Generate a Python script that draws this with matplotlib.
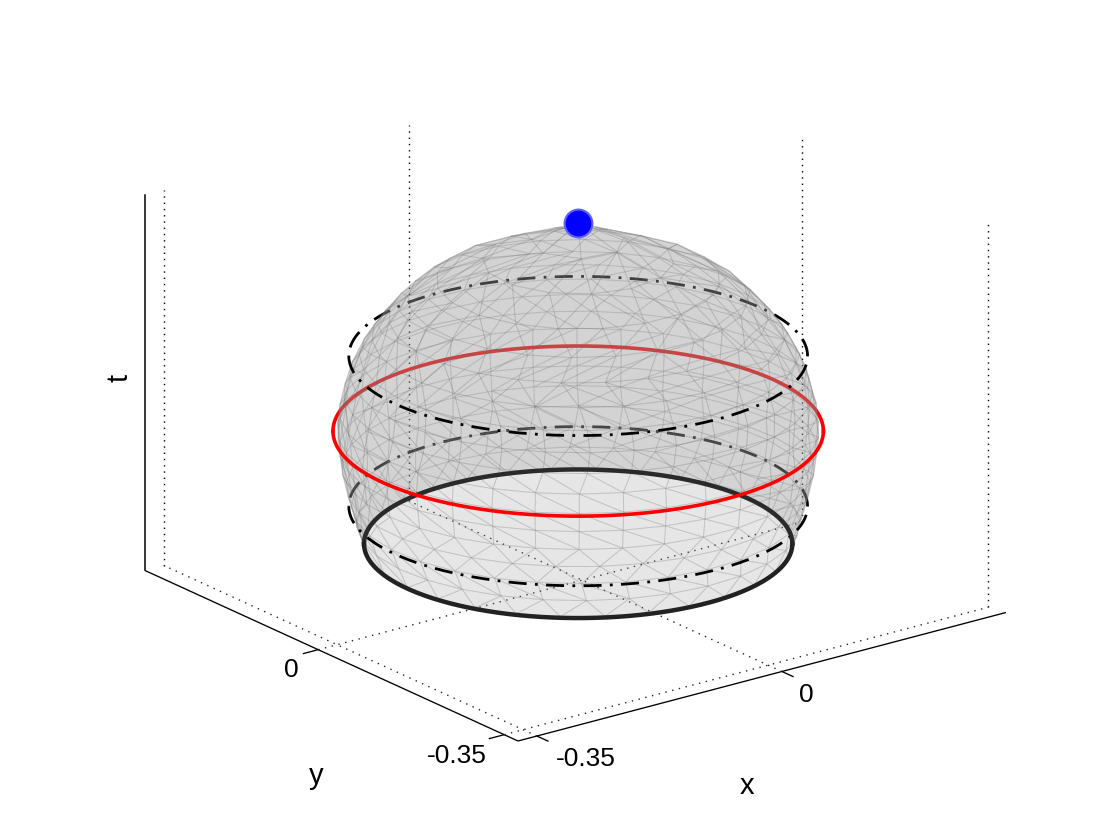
import numpy as np
import matplotlib
matplotlib.use("Agg")
import matplotlib.pyplot as plt
from mpl_toolkits.mplot3d import proj3d
from mpl_toolkits.mplot3d.art3d import Poly3DCollection

# ---- values ----
x_lim = [-0.377, 0.320]
y_lim = [-0.376, 0.326]
t_lim = [0.0, 1.0]
x_ticks = [-0.35, 0.0]
y_ticks = [-0.35, 0.0]
x_tick_labels = ["-0.35", "0"]
y_tick_labels = ["-0.35", "0"]

centre_x = -0.0036
centre_y = 0.0027

# dome profile: height and radius of each mesh row
row_t = [0.10, 0.15, 0.20, 0.25, 0.30, 0.35, 0.40, 0.45, 0.50, 0.55,
         0.60, 0.65, 0.70, 0.75, 0.80, 0.85, 0.90, 0.95]
row_r = [0.2437, 0.252, 0.258, 0.264, 0.269, 0.272, 0.2745, 0.272, 0.2667, 0.260,
         0.249, 0.235, 0.216, 0.194, 0.162, 0.109, 0.054, 0.0]

base_t, base_r = 0.097, 0.2437
red_t, red_r = 0.397, 0.279
dash_t = [0.197, 0.597]
dash_r = [0.261, 0.261]
apex_t = 0.95

# ---- figure ----
W, H = 1111, 833
plt.rcParams["font.family"] = ["Liberation Sans", "DejaVu Sans"]
fig = plt.figure(figsize=(W / 100, H / 100), dpi=100, facecolor="white")
ax = fig.add_axes([0, 0, 1, 1], projection="3d", proj_type="ortho", computed_zorder=False)
ax.set_axis_off()
ax.set_xlim(*x_lim, view_margin=0)
ax.set_ylim(*y_lim, view_margin=0)
ax.set_zlim(*t_lim, view_margin=0)
AZIM, ELEV = 232.8, 20.3
ax.view_init(elev=ELEV, azim=AZIM)
box = (x_lim[1] - x_lim[0], y_lim[1] - y_lim[0], (t_lim[1] - t_lim[0]) * 400 / 878)


def to_px(x, y, z):
    ax.apply_aspect()
    u, v, _ = proj3d.proj_transform(x, y, z, ax.get_proj())
    px, py = ax.transData.transform((u, v))
    return px, H - py


# fit the cube to the reference's axis corners
ax.set_box_aspect(box, zoom=1.0)
a = to_px(x_lim[0], y_lim[1], 0)
b = to_px(x_lim[1], y_lim[0], 0)
ax.set_box_aspect(box, zoom=861.0 / (b[0] - a[0]))
c = to_px(x_lim[0], y_lim[0], 0)
dx, dy = 518 - c[0], 741 - c[1]
ax.set_position([dx / W, -dy / H, 1, 1])


def line(xs, ys, zs, **kw):
    kw.setdefault("clip_on", False)
    ax.plot(xs, ys, zs, **kw)


# box axes
axis_kw = dict(color="black", lw=0.95, zorder=1, solid_capstyle="butt")
line([x_lim[0], x_lim[1]], [y_lim[0], y_lim[0]], [0, 0], **axis_kw)
line([x_lim[0], x_lim[0]], [y_lim[0], y_lim[1]], [0, 0], **axis_kw)
line([x_lim[0], x_lim[0]], [y_lim[1], y_lim[1]], [0, 1], color="black", lw=1.1, zorder=1)

# ticks
tick_len = 0.022
for v in x_ticks:
    line([v, v], [y_lim[0], y_lim[0] - tick_len], [0, 0], **axis_kw)
for v in y_ticks:
    line([x_lim[0], x_lim[0] - tick_len], [v, v], [0, 0], **axis_kw)

# dotted grid
x_wall = 0.3145
right_wall_top = 1.02
floor_dots = dict(color="#222222", lw=1.0, ls=(0, (1, 4)), zorder=1)
wall_dots = dict(color="black", lw=1.0, ls=(0, (1, 3.5)), zorder=1)
for v in x_ticks:
    line([v, v], [y_lim[0], y_lim[1]], [0, 0], **floor_dots)
    line([v, v], [y_lim[1], y_lim[1]], [0, 1], **wall_dots)
for v in y_ticks:
    line([x_lim[0], x_wall], [v, v], [0, 0], **floor_dots)
    line([x_wall, x_wall], [v, v], [0, right_wall_top], **wall_dots)


# rings: the half facing away lies under the translucent surface
def ring(r, t, front, **kw):
    mid = AZIM if front else AZIM + 180
    th = np.radians(np.linspace(mid - 90, mid + 90, 181))
    line(centre_x + r * np.cos(th), centre_y + r * np.sin(th), np.full_like(th, t), **kw)


dash_ls = (0, (6.5, 3, 1, 3))
for r, t in zip(dash_r, dash_t):
    ring(r, t, False, color="black", lw=2.0, ls=dash_ls, zorder=2)
    ring(r, t, True, color="black", lw=2.0, ls=dash_ls, zorder=4)
ring(red_r, red_t, False, color="red", lw=2.6, zorder=2)
ring(red_r, red_t, True, color="red", lw=2.6, zorder=5)
ring(base_r, base_t, False, color="#2a2a2a", lw=3.2, zorder=4)
ring(base_r, base_t, True, color="#222222", lw=3.2, zorder=4)


# triangulated surface between successive rows
def row_points(i):
    r, t = row_r[i], row_t[i]
    n = max(1, int(round(r * 125)))
    th = np.linspace(0, 2 * np.pi, n, endpoint=False) + 0.37 * i
    pts = [(centre_x + r * np.cos(a_), centre_y + r * np.sin(a_), t) for a_ in th]
    return th, pts


tris = []
for i in range(len(row_t) - 1):
    th0, p0 = row_points(i)
    th1, p1 = row_points(i + 1)
    n0, n1 = len(p0), len(p1)
    a0, a1 = 0, 0
    # start the upper row at its point nearest the lower row's first angle
    off = np.argmin(np.abs(np.angle(np.exp(1j * (th1 - th0[0])))))
    while a0 < n0 or a1 < n1:
        q0 = p0[a0 % n0]
        q1 = p1[(a1 + off) % n1]
        if a1 >= n1 or (a0 < n0 and (a0 + 0.5) / n0 <= (a1 + 0.5) / n1):
            tris.append([q0, p0[(a0 + 1) % n0], q1])
            a0 += 1
        else:
            tris.append([q0, p1[(a1 + 1 + off) % n1], q1])
            a1 += 1

surface = Poly3DCollection(tris, facecolors=[(151 / 255, 151 / 255, 151 / 255, 0.24)],
                           edgecolors=[(0.42, 0.42, 0.42, 0.16)], linewidths=0.7, zorder=3)
surface.set_clip_on(False)
ax.add_collection3d(surface)

# apex marker
line([centre_x], [centre_y], [apex_t], marker="o", ms=20, mfc="#0000ff",
     mec="#6060ff", mew=1.5, ls="none", zorder=6)


# text
def label(px, py, s, **kw):
    fig.text(px / W, 1 - py / H, s, ha="center", va="center", color="black", **kw)


label(586, 759, x_tick_labels[0], fontsize=19)
label(806, 695, x_tick_labels[1], fontsize=19)
label(457, 756, y_tick_labels[0], fontsize=19)
label(291, 670, y_tick_labels[1], fontsize=19)
label(747, 786, "x", fontsize=21)
label(316, 776, "y", fontsize=21)
label(120, 378, "t", fontsize=21, rotation=90)

fig.savefig("out.png", dpi=100, facecolor="white")
